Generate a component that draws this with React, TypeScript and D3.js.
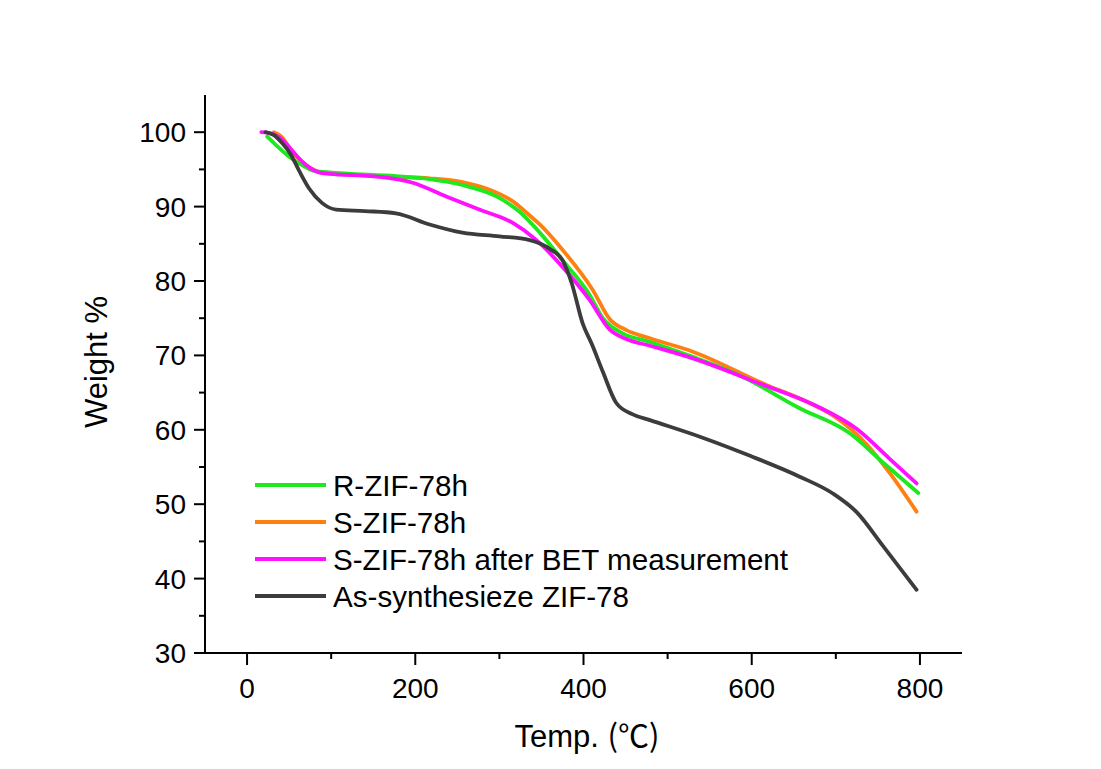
import React from "react";
import * as d3 from "d3";

const seriesNames = [
  "R-ZIF-78h",
  "S-ZIF-78h",
  "S-ZIF-78h after BET measurement",
  "As-synthesieze ZIF-78",
];
const seriesColors = ["#1ee81e", "#ff8010", "#ff10ff", "#3c3c3c"];

const rZif: [number, number][] = [
  [24, 99.4], [35, 98.2], [50, 96.7], [65, 95.6], [80, 94.8], [110, 94.5], [177, 94.1],
  [217, 93.7], [256, 92.9], [296, 91.4], [324, 89.3], [348, 86.5], [375, 82.8], [407, 78.2],
  [423, 75.0], [446, 73.0], [479, 71.8], [530, 69.8], [586, 67.3], [657, 62.9], [717, 59.5],
  [756, 55.6], [798, 51.5],
];
const sZif: [number, number][] = [
  [32, 100], [40, 99.5], [50, 98.0], [58, 96.8], [70, 95.6], [89, 94.6], [120, 94.3],
  [177, 94.0], [217, 93.8], [256, 93.3], [290, 92.2], [316, 90.7], [336, 88.8], [348, 87.6],
  [375, 84.2], [411, 78.8], [431, 74.9], [451, 73.4], [479, 72.3], [530, 70.5], [618, 66.0],
  [665, 63.8], [697, 61.9], [737, 58.0], [764, 54.2], [796, 49.0],
];
const sZifBet: [number, number][] = [
  [17, 100], [25, 99.9], [34, 99.6], [42, 99.0], [50, 98.0], [60, 96.7], [70, 95.6],
  [89, 94.5], [98, 94.4], [157, 94.0], [197, 93.2], [236, 91.4], [276, 89.6], [316, 87.8],
  [344, 85.5], [375, 81.9], [407, 77.5], [431, 73.5], [451, 72.2], [479, 71.3], [530, 69.6],
  [610, 66.2], [677, 63.2], [725, 60.1], [764, 56.1], [796, 52.8],
];
const asSynth: [number, number][] = [
  [22, 100], [32, 99.6], [42, 98.5], [52, 97.0], [62, 94.8], [74, 92.4], [89, 90.5], [106, 89.6],
  [140, 89.4], [177, 89.1], [217, 87.6], [256, 86.5], [300, 86.0], [336, 85.5], [360, 84.3],
  [375, 82.8], [386, 79.7], [399, 74.3], [410, 71.5], [423, 67.8], [439, 63.6], [458, 62.1],
  [479, 61.3], [540, 59.0], [598, 56.5], [657, 53.7], [697, 51.4], [725, 48.9], [756, 44.4],
  [796, 38.5],
];
const seriesData = [rZif, sZif, sZifBet, asSynth];
const drawOrder = [1, 0, 2, 3];

const xMajorTicks = [0, 200, 400, 600, 800];
const xMinorTicks = [100, 300, 500, 700];
const yMajorTicks = [30, 40, 50, 60, 70, 80, 90, 100];
const yMinorTicks = [35, 45, 55, 65, 75, 85, 95];

const W = 1101;
const H = 769;
const left = 205;
const right = 962;
const top = 95;
const bottom = 653;

const FONT = "'Liberation Sans', Arial, sans-serif";

export default function App() {
  const x = d3.scaleLinear().domain([-50, 850]).range([left, right]);
  const y = d3.scaleLinear().domain([30, 105]).range([bottom, top]);
  const line = d3
    .line<[number, number]>()
    .x((d) => x(d[0]))
    .y((d) => y(d[1]))
    .curve(d3.curveMonotoneX);

  const legendY0 = 485;
  const legendStep = 37;

  return (
    <div style={{ position: "fixed", left: 0, top: 0 }}>
      <svg width={W} height={H} style={{ display: "block", background: "#ffffff" }}>
        {drawOrder.map((i) => (
          <path
            key={i}
            d={line(seriesData[i]) || ""}
            fill="none"
            stroke={seriesColors[i]}
            strokeWidth={3.8}
            strokeLinejoin="round"
            strokeLinecap="round"
          />
        ))}
        {/* axes */}
        <line x1={left} x2={left} y1={top} y2={bottom + 1} stroke="#000" strokeWidth={2} />
        <line x1={left - 1} x2={right} y1={bottom} y2={bottom} stroke="#000" strokeWidth={2} />
        {yMajorTicks.map((t) => (
          <g key={"ym" + t}>
            <line x1={left - 11} x2={left} y1={y(t)} y2={y(t)} stroke="#000" strokeWidth={2} />
            <text
              x={left - 19}
              y={y(t)}
              dy="0.36em"
              textAnchor="end"
              fontFamily={FONT}
              fontSize={28}
              fill="#000"
            >
              {t}
            </text>
          </g>
        ))}
        {yMinorTicks.map((t) => (
          <line key={"yn" + t} x1={left - 6} x2={left} y1={y(t)} y2={y(t)} stroke="#000" strokeWidth={2} />
        ))}
        {xMajorTicks.map((t) => (
          <g key={"xm" + t}>
            <line x1={x(t)} x2={x(t)} y1={bottom} y2={bottom + 12} stroke="#000" strokeWidth={2} />
            <text
              x={x(t)}
              y={698}
              textAnchor="middle"
              fontFamily={FONT}
              fontSize={28}
              fill="#000"
            >
              {t}
            </text>
          </g>
        ))}
        {xMinorTicks.map((t) => (
          <line key={"xn" + t} x1={x(t)} x2={x(t)} y1={bottom} y2={bottom + 6} stroke="#000" strokeWidth={2} />
        ))}
        {/* axis titles */}
        <text
          transform={`translate(107, 362) rotate(-90)`}
          textAnchor="middle"
          fontFamily={FONT}
          fontSize={31}
          fill="#000"
        >
          Weight %
        </text>
        <text x={587} y={747} textAnchor="middle" fontFamily={FONT} fontSize={31} fill="#000">
          Temp.{" "}
          <tspan fontFamily="'Noto Sans CJK SC', 'DejaVu Serif', serif" fontSize={31}>
            (℃)
          </tspan>
        </text>
        {/* legend */}
        {seriesNames.map((name, i) => (
          <g key={name}>
            <line
              x1={255}
              x2={326}
              y1={legendY0 + i * legendStep}
              y2={legendY0 + i * legendStep}
              stroke={seriesColors[i]}
              strokeWidth={4}
            />
            <text
              x={333}
              y={legendY0 + i * legendStep}
              dy="0.36em"
              fontFamily={FONT}
              fontSize={29.6}
              fill="#000"
            >
              {name}
            </text>
          </g>
        ))}
      </svg>
    </div>
  );
}
